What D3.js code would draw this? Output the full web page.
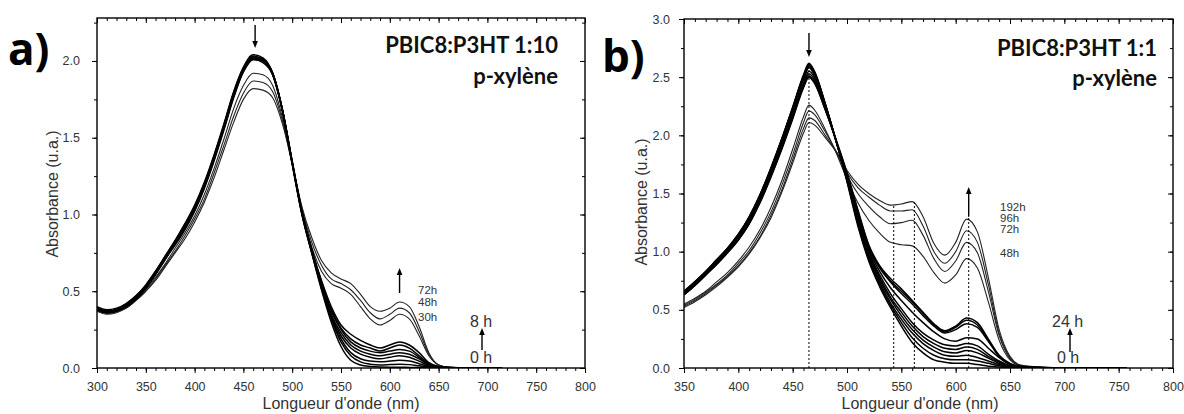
<!DOCTYPE html>
<html><head><meta charset="utf-8">
<script src="https://cdn.jsdelivr.net/npm/d3@7"></script>
<style>body{margin:0;background:#fff}</style></head>
<body><svg id="c" width="1184" height="414"></svg>
<script>
// ---------- Panel a data ----------
const wlA=[300,310,320,330,340,350,360,370,380,390,400,410,420,430,440,450,460,470,480,490,500,510,520,530,540,550,560,570,580,590,600,610,620,630,640,650,660,680,700,715];
const a0h=[0.40,0.38,0.39,0.42,0.47,0.54,0.63,0.73,0.83,0.93,1.05,1.20,1.38,1.58,1.79,1.95,2.03,2.01,1.91,1.67,1.33,1.00,0.75,0.51,0.30,0.14,0.05,0.02,0.01,0.006,0.005,0.005,0.004,0.003,0.002,0.002,0.001,0.001,0.001,0.001];
const a1h=[0.39,0.37,0.38,0.42,0.47,0.54,0.63,0.73,0.83,0.94,1.06,1.21,1.39,1.59,1.80,1.96,2.04,2.02,1.92,1.68,1.33,1.00,0.75,0.52,0.32,0.17,0.08,0.04,0.025,0.02,0.022,0.025,0.022,0.014,0.006,0.003,0.002,0.001,0.001,0.001];
const a2h=[0.39,0.37,0.38,0.41,0.46,0.53,0.62,0.72,0.82,0.93,1.05,1.20,1.38,1.58,1.79,1.95,2.03,2.01,1.92,1.68,1.34,1.01,0.76,0.53,0.33,0.19,0.10,0.06,0.045,0.04,0.045,0.05,0.045,0.028,0.01,0.004,0.002,0.001,0.001,0.001];
const a3h=[0.39,0.37,0.38,0.41,0.46,0.53,0.62,0.72,0.82,0.92,1.04,1.19,1.37,1.57,1.78,1.95,2.03,2.01,1.92,1.68,1.34,1.01,0.76,0.54,0.34,0.21,0.13,0.09,0.07,0.06,0.07,0.08,0.07,0.045,0.015,0.005,0.002,0.001,0.001,0.001];
const a4h=[0.38,0.37,0.38,0.41,0.46,0.53,0.62,0.72,0.82,0.92,1.04,1.19,1.37,1.57,1.78,1.94,2.02,2.00,1.92,1.68,1.34,1.01,0.76,0.55,0.35,0.23,0.15,0.11,0.09,0.08,0.09,0.10,0.09,0.06,0.02,0.006,0.002,0.001,0.001,0.001];
const a5h=[0.38,0.36,0.37,0.40,0.45,0.52,0.61,0.71,0.81,0.91,1.03,1.18,1.36,1.56,1.77,1.94,2.02,2.00,1.92,1.68,1.34,1.01,0.77,0.56,0.37,0.25,0.17,0.13,0.11,0.10,0.11,0.12,0.11,0.07,0.025,0.007,0.003,0.001,0.001,0.001];
const a6h=[0.38,0.36,0.37,0.40,0.45,0.52,0.61,0.71,0.81,0.91,1.03,1.18,1.36,1.56,1.77,1.93,2.01,2.00,1.91,1.68,1.34,1.01,0.77,0.56,0.38,0.26,0.19,0.15,0.13,0.11,0.13,0.15,0.13,0.08,0.03,0.008,0.003,0.001,0.001,0.001];
const a8h=[0.38,0.36,0.37,0.40,0.45,0.52,0.61,0.71,0.80,0.90,1.02,1.17,1.35,1.55,1.76,1.93,2.01,1.99,1.91,1.68,1.35,1.02,0.77,0.57,0.40,0.28,0.22,0.18,0.15,0.13,0.15,0.17,0.15,0.10,0.035,0.01,0.003,0.001,0.001,0.001];
const a30h=[0.38,0.36,0.37,0.40,0.45,0.51,0.59,0.68,0.78,0.88,0.99,1.13,1.30,1.49,1.69,1.84,1.92,1.91,1.84,1.63,1.33,1.03,0.79,0.63,0.55,0.52,0.48,0.40,0.32,0.28,0.31,0.35,0.32,0.21,0.08,0.02,0.005,0.002,0.001,0.001];
const a48h=[0.37,0.36,0.37,0.39,0.44,0.50,0.58,0.67,0.76,0.86,0.97,1.10,1.27,1.45,1.64,1.79,1.87,1.86,1.80,1.61,1.33,1.04,0.82,0.67,0.58,0.55,0.51,0.44,0.36,0.32,0.35,0.39,0.36,0.24,0.09,0.02,0.005,0.002,0.001,0.001];
const a72h=[0.37,0.35,0.36,0.39,0.44,0.50,0.57,0.66,0.75,0.84,0.95,1.08,1.24,1.42,1.60,1.75,1.82,1.81,1.76,1.59,1.33,1.05,0.85,0.70,0.62,0.58,0.55,0.48,0.40,0.37,0.39,0.43,0.40,0.27,0.10,0.02,0.005,0.002,0.001,0.001];
const earlyA=[a0h,a1h,a2h,a3h,a4h,a5h,a6h,a8h];
const lateA=[a30h,a48h,a72h];
const lateLabelsA=["72h","48h","30h"];
const xTicksA=[300,350,400,450,500,550,600,650,700,750,800];
const yTicksA=[0,0.5,1.0,1.5,2.0];

// ---------- Panel b data ----------
const wlB=[350,360,370,380,390,400,410,420,430,440,450,460,465,470,480,490,500,510,520,530,540,550,560,570,580,590,600,610,620,630,640,650,660,680,700,730,757];
const b0h=[0.66,0.74,0.83,0.93,1.03,1.15,1.30,1.49,1.72,1.97,2.24,2.52,2.62,2.55,2.27,1.95,1.60,1.22,0.92,0.70,0.52,0.36,0.22,0.13,0.07,0.05,0.04,0.04,0.03,0.015,0.008,0.004,0.002,0.001,0.001,0.001,0.001];
const b1h=[0.66,0.74,0.83,0.93,1.03,1.15,1.30,1.49,1.72,1.97,2.24,2.51,2.61,2.55,2.27,1.95,1.61,1.24,0.94,0.72,0.54,0.39,0.26,0.17,0.11,0.08,0.07,0.07,0.06,0.04,0.02,0.008,0.003,0.001,0.001,0.001,0.001];
const b2h=[0.65,0.74,0.83,0.92,1.02,1.14,1.29,1.48,1.71,1.96,2.23,2.51,2.61,2.54,2.27,1.95,1.62,1.26,0.96,0.74,0.56,0.42,0.30,0.21,0.15,0.11,0.10,0.11,0.09,0.06,0.03,0.01,0.004,0.001,0.001,0.001,0.001];
const b4h=[0.65,0.73,0.82,0.92,1.02,1.14,1.29,1.48,1.70,1.95,2.22,2.50,2.60,2.53,2.26,1.95,1.62,1.27,0.97,0.76,0.59,0.45,0.33,0.24,0.18,0.14,0.13,0.15,0.13,0.085,0.04,0.013,0.005,0.002,0.001,0.001,0.001];
const b6h=[0.65,0.73,0.82,0.92,1.02,1.14,1.28,1.47,1.70,1.95,2.22,2.49,2.59,2.53,2.26,1.95,1.63,1.28,0.99,0.78,0.61,0.48,0.36,0.27,0.21,0.17,0.16,0.18,0.16,0.10,0.05,0.016,0.006,0.002,0.001,0.001,0.001];
const b8h=[0.64,0.72,0.81,0.91,1.01,1.13,1.28,1.47,1.69,1.94,2.21,2.48,2.58,2.52,2.25,1.95,1.63,1.29,1.00,0.80,0.64,0.51,0.39,0.30,0.24,0.20,0.19,0.21,0.19,0.12,0.06,0.02,0.007,0.002,0.001,0.001,0.001];
const b12h=[0.64,0.72,0.81,0.90,1.00,1.12,1.26,1.45,1.67,1.92,2.18,2.45,2.55,2.50,2.24,1.95,1.64,1.31,1.02,0.83,0.69,0.58,0.48,0.39,0.31,0.25,0.23,0.26,0.25,0.17,0.09,0.03,0.01,0.003,0.001,0.001,0.001];
const b16h=[0.63,0.71,0.80,0.90,1.00,1.11,1.25,1.44,1.66,1.90,2.16,2.43,2.53,2.48,2.23,1.95,1.66,1.33,1.04,0.86,0.74,0.64,0.55,0.45,0.36,0.30,0.33,0.38,0.35,0.23,0.10,0.035,0.012,0.003,0.001,0.001,0.001];
const b20h=[0.63,0.71,0.80,0.89,0.99,1.10,1.24,1.43,1.65,1.89,2.15,2.42,2.51,2.46,2.22,1.96,1.67,1.35,1.05,0.87,0.75,0.66,0.57,0.47,0.37,0.31,0.35,0.41,0.37,0.24,0.10,0.035,0.012,0.003,0.001,0.001,0.001];
const b24h=[0.63,0.71,0.80,0.89,0.99,1.10,1.24,1.42,1.64,1.88,2.14,2.41,2.50,2.45,2.22,1.96,1.68,1.36,1.06,0.88,0.77,0.68,0.58,0.48,0.38,0.32,0.36,0.43,0.39,0.25,0.11,0.04,0.013,0.004,0.001,0.001,0.001];
const b48h=[0.55,0.60,0.66,0.74,0.82,0.92,1.04,1.19,1.38,1.61,1.88,2.16,2.26,2.22,2.05,1.85,1.62,1.42,1.27,1.16,1.08,1.06,1.05,0.96,0.82,0.73,0.80,0.94,0.86,0.57,0.24,0.07,0.02,0.005,0.002,0.001,0.001];
const b72h=[0.54,0.59,0.65,0.72,0.80,0.90,1.01,1.16,1.34,1.57,1.83,2.11,2.21,2.18,2.03,1.86,1.66,1.50,1.39,1.30,1.24,1.25,1.27,1.14,0.94,0.83,0.92,1.08,0.99,0.66,0.28,0.08,0.02,0.005,0.002,0.001,0.001];
const b96h=[0.53,0.58,0.64,0.71,0.79,0.88,0.99,1.13,1.31,1.53,1.79,2.06,2.15,2.13,2.00,1.86,1.68,1.55,1.47,1.40,1.35,1.35,1.36,1.22,1.00,0.90,1.00,1.18,1.08,0.72,0.30,0.09,0.02,0.006,0.002,0.001,0.001];
const b192h=[0.52,0.57,0.63,0.70,0.78,0.87,0.98,1.12,1.29,1.51,1.76,2.02,2.11,2.09,1.98,1.86,1.70,1.58,1.50,1.44,1.40,1.41,1.43,1.30,1.07,0.97,1.08,1.28,1.17,0.78,0.33,0.10,0.025,0.006,0.002,0.001,0.001];
const earlyB=[b0h,b1h,b2h,b4h,b6h,b8h,b12h,b16h,b20h,b24h];
const lateB=[b48h,b72h,b96h,b192h];
const lateLabelsB=["192h","96h","72h","48h"];
const xTicksB=[350,400,450,500,550,600,650,700,750,800];
const yTicksB=[0,0.5,1.0,1.5,2.0,2.5,3.0];
// marker lines in b: wavelength and top absorbance
const dashWlB=[465,543,562,612];
const dashTopB=[2.62,1.40,1.43,1.30];

const svg=d3.select('#c');
const FONT='"Liberation Sans", Arial, sans-serif';

function drawPanel(o){
  const x=d3.scaleLinear().domain(o.xDom).range([o.L,o.R]);
  const y=d3.scaleLinear().domain(o.yDom).range([o.B,o.T]);
  const g=svg.append('g');
  svg.append('clipPath').attr('id','clip'+o.name).append('rect')
    .attr('x',o.L).attr('y',o.T).attr('width',o.R-o.L).attr('height',o.B-o.T);
  const cg=g.append('g').attr('clip-path','url(#clip'+o.name+')');
  const line=d3.line().x((d,i)=>x(o.wl[i])).y(d=>y(d)).curve(d3.curveMonotoneX);
  o.late.forEach(s=>cg.append('path').attr('d',line(s)).attr('fill','none')
      .attr('stroke','#222').attr('stroke-width',1.1));
  o.early.forEach(s=>cg.append('path').attr('d',line(s)).attr('fill','none')
      .attr('stroke','#000').attr('stroke-width',1.5));
  const xMin=d3.range(o.xDom[0],o.xDom[1]+0.1,10);
  const yMin=d3.range(0,o.yDom[1]+0.001,0.25);
  const ax=(gen,tr)=>{const a=g.append('g').attr('transform',tr).call(gen);a.select('.domain').remove();a.selectAll('line').attr('stroke','#000').attr('stroke-width',1);return a;};
  ax(d3.axisBottom(x).tickValues(xMin).tickSize(3).tickFormat(''),`translate(0,${o.B})`);
  ax(d3.axisTop(x).tickValues(xMin).tickSize(-3).tickFormat(''),`translate(0,${o.T})`);
  ax(d3.axisLeft(y).tickValues(yMin).tickSize(3).tickFormat(''),`translate(${o.L},0)`);
  ax(d3.axisRight(y).tickValues(yMin).tickSize(-3).tickFormat(''),`translate(${o.R},0)`);
  const xb=ax(d3.axisBottom(x).tickValues(o.xTicks).tickSize(5).tickPadding(9).tickFormat(d3.format('d')),`translate(0,${o.B})`);
  ax(d3.axisTop(x).tickValues(o.xTicks).tickSize(-5).tickFormat(''),`translate(0,${o.T})`);
  const yl=ax(d3.axisLeft(y).tickValues(o.yTicks).tickSize(5).tickPadding(o.yPad).tickFormat(d3.format('.1f')),`translate(${o.L},0)`);
  ax(d3.axisRight(y).tickValues(o.yTicks).tickSize(-5).tickFormat(''),`translate(${o.R},0)`);
  [xb,yl].forEach(a=>a.selectAll('text').attr('font-family',FONT).attr('font-size',12.5).attr('fill','#333'));
  g.append('rect').attr('x',o.L).attr('y',o.T).attr('width',o.R-o.L).attr('height',o.B-o.T)
    .attr('fill','none').attr('stroke','#000').attr('stroke-width',1.4);
  g.append('text').attr('x',o.xtX).attr('y',409).attr('text-anchor','middle')
    .attr('font-family',FONT).attr('font-size',16).attr('fill','#333').text("Longueur d'onde (nm)");
  g.append('text').attr('transform',`translate(${o.ytX},${o.ytY}) rotate(-90)`).attr('text-anchor','middle')
    .attr('dominant-baseline','middle').attr('font-family',FONT).attr('font-size',16).attr('fill','#333').text('Absorbance (u.a.)');
  return {x,y,g};
}

function arrow(g,x,y1,y2){
  const dir=y2>y1?1:-1;
  g.append('line').attr('x1',x).attr('x2',x).attr('y1',y1).attr('y2',y2-dir*5)
    .attr('stroke','#000').attr('stroke-width',1.4);
  g.append('path').attr('d',`M${x-2.8},${y2-dir*7}L${x+2.8},${y2-dir*7}L${x},${y2}Z`).attr('fill','#000');
}
function txt(g,x,y,s,size,opt={}){
  return g.append('text').attr('x',x).attr('y',y).attr('font-family',opt.family||FONT)
    .attr('font-size',size).attr('font-weight',opt.weight||'normal').attr('fill',opt.fill||'#222')
    .attr('text-anchor',opt.anchor||'start').text(s);
}

// Panel a
const A=drawPanel({name:'a',wl:wlA,early:earlyA,late:lateA,xDom:[300,800],yDom:[0,2.28],
  L:97,R:585,T:18,B:368,xTicks:xTicksA,yTicks:yTicksA,yPad:12,xtX:341,ytX:54,ytY:194});
arrow(A.g,A.x(462),25,48);
arrow(A.g,A.x(610),293,268);
lateLabelsA.forEach((s,i)=>txt(A.g,418,[294,306,321][i],s,11.5,{fill:'#333'}));
txt(A.g,470,327,'8 h',16,{fill:'#333'});
txt(A.g,470,363,'0 h',16,{fill:'#333'});
arrow(A.g,482,350,328);
txt(A.g,8,65,'a)',44,{family:'"Open Sans", sans-serif',weight:'bold',fill:'#000'});
txt(A.g,558,53,'PBIC8:P3HT 1:10',22,{family:'Lato, sans-serif',weight:'bold',anchor:'end',fill:'#111'});
txt(A.g,558,84,'p-xylène',22,{family:'Lato, sans-serif',weight:'bold',anchor:'end',fill:'#111'});

// Panel b
const B=drawPanel({name:'b',wl:wlB,early:earlyB,late:lateB,xDom:[350,800],yDom:[0,3.0],
  L:684,R:1173,T:19,B:368,xTicks:xTicksB,yTicks:yTicksB,yPad:9,xtX:920,ytX:643,ytY:202});
dashWlB.forEach((w,i)=>B.g.append('line').attr('x1',B.x(w)).attr('x2',B.x(w))
  .attr('y1',B.y(0)).attr('y2',B.y(dashTopB[i])).attr('stroke','#000').attr('stroke-width',1)
  .attr('stroke-dasharray','2,2'));
arrow(B.g,B.x(465),33,57);
arrow(B.g,B.x(612),B.y(1.30),187);
lateLabelsB.forEach((s,i)=>txt(B.g,1000,[211,222,233,257][i],s,11.5,{fill:'#333'}));
txt(B.g,1052,327,'24 h',16,{fill:'#333'});
txt(B.g,1057,363,'0 h',16,{fill:'#333'});
arrow(B.g,1070,352,328);
txt(B.g,602,72,'b)',44,{family:'"Open Sans", sans-serif',weight:'bold',fill:'#000'});
txt(B.g,1157,56,'PBIC8:P3HT 1:1',22,{family:'Lato, sans-serif',weight:'bold',anchor:'end',fill:'#111'});
txt(B.g,1157,86,'p-xylène',22,{family:'Lato, sans-serif',weight:'bold',anchor:'end',fill:'#111'});
</script></body></html>
